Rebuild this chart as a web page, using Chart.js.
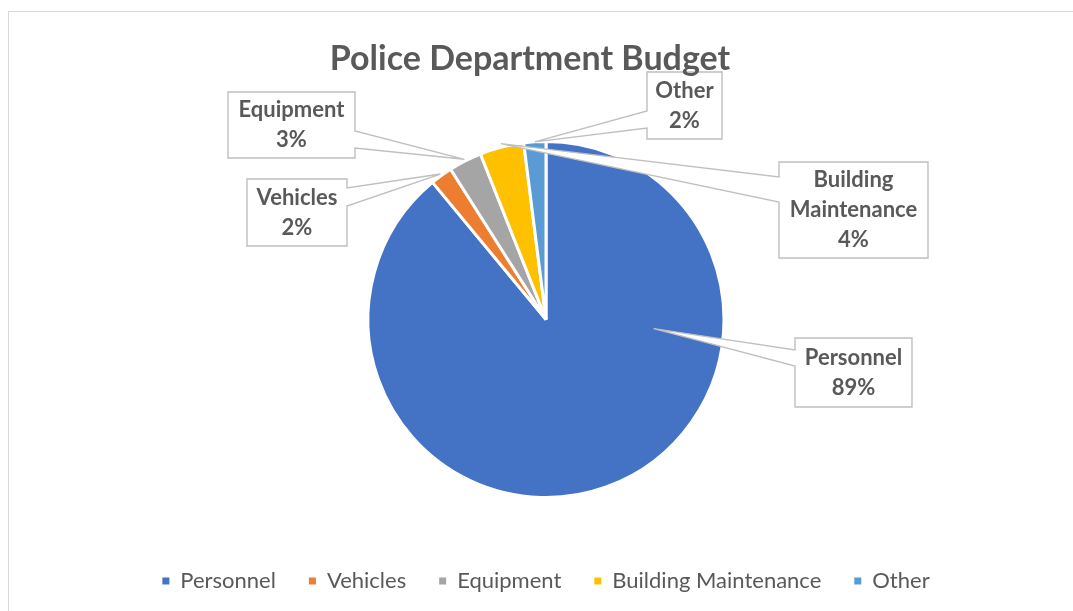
<!DOCTYPE html>
<html>
<head>
<meta charset="utf-8">
<title>Police Department Budget</title>
<script src="https://cdn.jsdelivr.net/npm/chart.js@4.4.1/dist/chart.umd.min.js"></script>
<style>
  html, body { margin: 0; padding: 0; background: #fff; overflow: hidden; }
  body { width: 1073px; height: 611px; position: relative; font-family: Lato, 'Open Sans', sans-serif; }
  .frame { position: absolute; left: 8px; top: 11px; width: 1100px; height: 650px; border: 1.5px solid #d9d9d9; box-sizing: border-box; }
  .chart-title { position: absolute; left: 230px; width: 600px; top: 37px; line-height: 40px; text-align: center;
    font-size: 34px; font-weight: bold; color: #595959; }
  .chart-wrap { position: absolute; left: 0; top: 0; width: 1073px; height: 602px; }
</style>
</head>
<body>
<div class="frame"></div>
<div class="chart-wrap"><canvas id="budgetChart" width="1073" height="602"></canvas></div>
<div class="chart-title">Police Department Budget</div>
<script>
// ===== Data =====
const categories = ['Personnel', 'Vehicles', 'Equipment', 'Building Maintenance', 'Other'];
const shares = [89, 2, 3, 4, 2];
const colors = ['#4472C4', '#ED7D31', '#A5A5A5', '#FFC000', '#5B9BD5'];

// Callout boxes (page px): box = [left, top, right, bottom], wedge base on one box side,
// tip = fraction along the slice angle + fraction of radius
const callouts = [
  { box: [795, 338, 912, 407], side: 'left',  base: [350, 366], frac: 0.296, rf: 0.607 },
  { box: [247, 179, 347, 246], side: 'right', base: [188, 206], frac: 0.5,   rf: 1.01 },
  { box: [228, 92, 355, 158],  side: 'right', base: [131, 148], frac: 0.5,   rf: 1.01 },
  { box: [779, 162, 928, 258], side: 'left',  base: [177, 202], frac: 0.5,   rf: 1.02 },
  { box: [647, 72, 722, 139],  side: 'left',  base: [111, 128], frac: 0.5,   rf: 1.0 },
];

const FONT = 'Lato, "Open Sans", sans-serif';

const calloutPlugin = {
  id: 'callouts',
  afterDatasetsDraw(chart) {
    const ctx = chart.ctx;
    const meta = chart.getDatasetMeta(0);
    const total = shares.reduce((a, b) => a + b, 0);
    meta.data.forEach((arc, i) => {
      const c = callouts[i];
      const p = arc.getProps(['x', 'y', 'startAngle', 'endAngle', 'outerRadius'], true);
      const a = p.startAngle + (p.endAngle - p.startAngle) * c.frac;
      const tx = p.x + Math.cos(a) * p.outerRadius * c.rf;
      const ty = p.y + Math.sin(a) * p.outerRadius * c.rf;
      const [l, t, r, b] = c.box;
      const [y1, y2] = c.base;

      ctx.save();
      ctx.beginPath();
      if (c.side === 'right') {
        ctx.moveTo(l, t); ctx.lineTo(r, t); ctx.lineTo(r, y1); ctx.lineTo(tx, ty);
        ctx.lineTo(r, y2); ctx.lineTo(r, b); ctx.lineTo(l, b);
      } else {
        ctx.moveTo(l, t); ctx.lineTo(r, t); ctx.lineTo(r, b); ctx.lineTo(l, b);
        ctx.lineTo(l, y2); ctx.lineTo(tx, ty); ctx.lineTo(l, y1);
      }
      ctx.closePath();
      ctx.fillStyle = '#ffffff';
      ctx.fill();
      ctx.lineWidth = 1.4;
      ctx.strokeStyle = '#bfbfbf';
      ctx.stroke();

      const name = categories[i];
      const lines = name.length > 12 ? name.split(' ') : [name];
      lines.push(Math.round(shares[i] / total * 100) + '%');
      ctx.fillStyle = '#595959';
      ctx.font = 'bold 22px ' + FONT;
      ctx.textAlign = 'center';
      ctx.textBaseline = 'middle';
      const cx = (l + r) / 2, cy = (t + b) / 2;
      lines.forEach((txt, j) => {
        ctx.fillText(txt, cx, cy + (j - (lines.length - 1) / 2) * 30);
      });
      ctx.restore();
    });
  }
};

new Chart(document.getElementById('budgetChart'), {
  type: 'pie',
  data: {
    labels: categories,
    datasets: [{
      data: shares,
      backgroundColor: colors,
      borderColor: '#ffffff',
      borderWidth: 3,
      radius: 178,
    }]
  },
  options: {
    responsive: false,
    animation: false,
    events: [],
    layout: { padding: { left: 19, right: 0, top: 102, bottom: 0 } },
    plugins: {
      title: { display: false },
      tooltip: { enabled: false },
      legend: {
        position: 'bottom',
        labels: {
          color: '#595959',
          font: { family: FONT, size: 22 },
          boxWidth: 7,
          boxHeight: 7,
          padding: 33,
          generateLabels(chart) {
            return Chart.overrides.pie.plugins.legend.labels.generateLabels(chart)
              .map(item => ({ ...item, lineWidth: 0, strokeStyle: 'transparent' }));
          }
        }
      }
    }
  },
  plugins: [calloutPlugin]
});
</script>
</body>
</html>
